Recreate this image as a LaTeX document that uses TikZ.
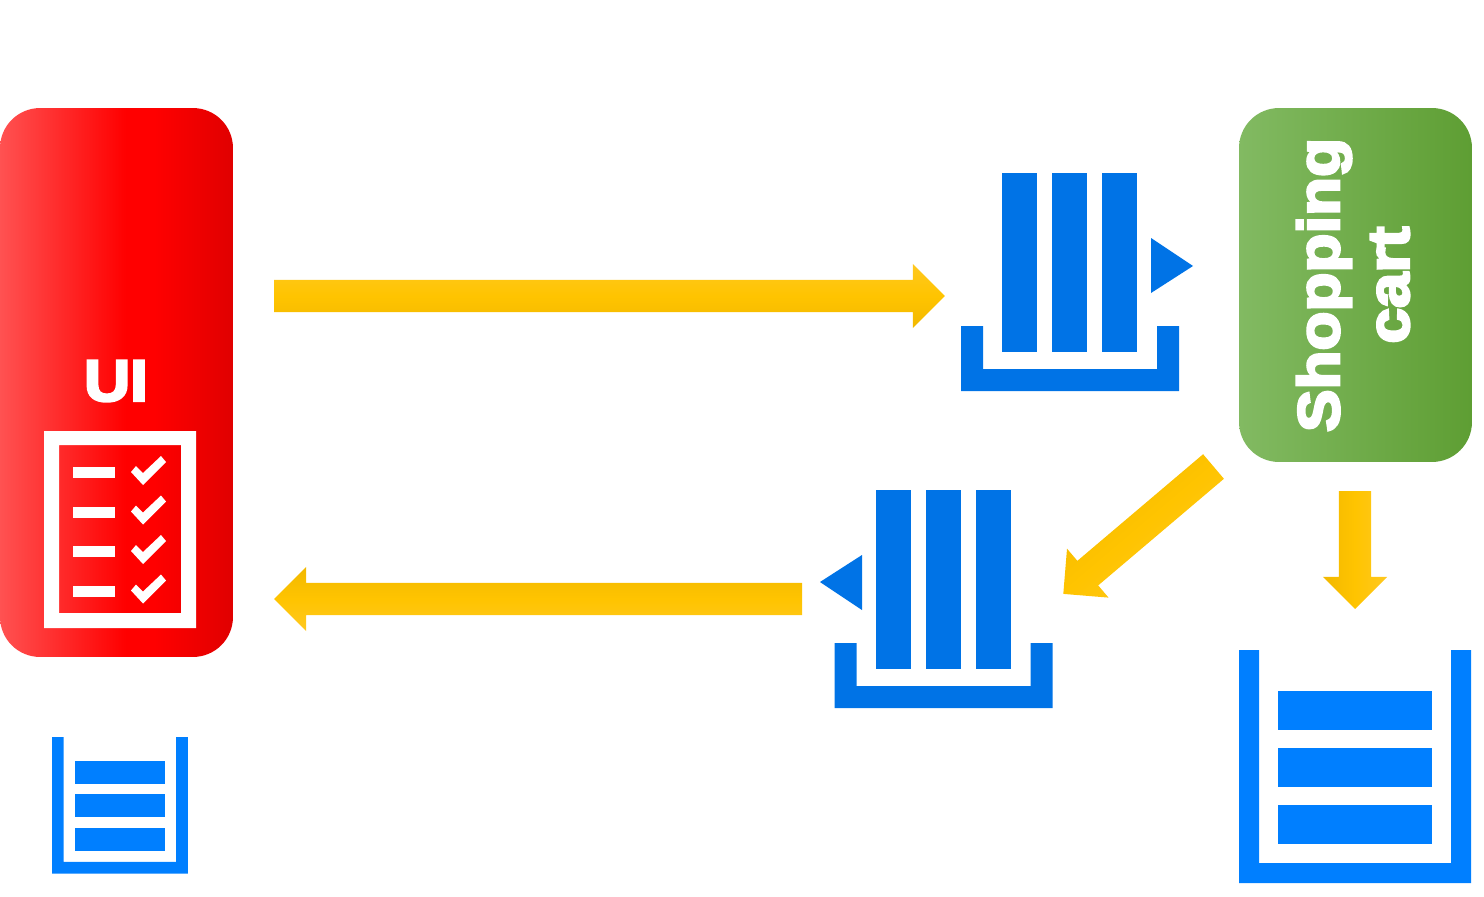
\documentclass[tikz,border=0pt]{standalone}
\usepackage{fontspec}
\usetikzlibrary{shapes.arrows}
\newfontfamily\heavyfont[FakeBold=4.5,FakeStretch=1.09]{Liberation Sans Bold}
\definecolor{queueblue}{HTML}{0073E6}
\definecolor{bucketblue}{HTML}{007FFF}
\definecolor{arrowlight}{HTML}{FFC820}
\definecolor{arrowmid}{HTML}{FFC400}
\definecolor{arrowdark}{HTML}{F2B800}
\definecolor{cartlight}{HTML}{82BA62}
\definecolor{cartmid}{HTML}{70AD47}
\definecolor{cartdark}{HTML}{5E9E33}
\pgfdeclarehorizontalshading{uishade}{100bp}{
  color(0bp)=(red!68!white); color(25bp)=(red!68!white); color(52bp)=(red);
  color(58bp)=(red); color(75bp)=(red!88!black); color(100bp)=(red!88!black)}
\tikzset{
  panel/.style={rounded corners=.8cm,inner sep=0pt,outer sep=0pt,minimum width=4.66cm},
  flowarrow/.style={single arrow,single arrow head extend=.32cm,single arrow tip angle=90,
    single arrow head indent=0pt,minimum width=1.28cm,inner sep=0pt,outer sep=0pt,anchor=tail,
    top color=arrowlight,bottom color=arrowdark,middle color=arrowmid,rotate=#1,shading angle=#1},
  paneltext/.style={text=white,font=\heavyfont\fontsize{33.3}{39.7}\selectfont,align=center,inner sep=0pt},
  queueicon/.pic={
    \foreach \barx in {41,91,141}
      \fill[queueblue] (\barx,0) rectangle (\barx+35,179);
    \fill[queueblue] (0,153) -- (22,153) -- (22,196) -- (196,196) -- (196,153) -- (218,153)
      -- (218,218) -- (0,218) -- cycle;
  },
  bucketicon/.pic={
    \fill[bucketblue] (0,0) -- (20,0) -- (20,213) -- (212,213) -- (212,0) -- (232,0)
      -- (232,233) -- (0,233) -- cycle;
    \foreach \bary in {41,98,155}
      \fill[bucketblue] (39,\bary) rectangle (193,\bary+39);
  },
}
\newcommand{\shaftwidth}{\rule{0pt}{.63cm}}
\begin{document}
\begin{tikzpicture}[x=0.02cm,y=-0.02cm]
\useasboundingbox (0,0) rectangle (1484,896);

% panels
\node (ui) [panel,minimum height=10.98cm,shading=uishade] at (116.5,382.5) {};
\node (cart) [panel,minimum height=7.08cm,left color=cartlight,middle color=cartmid,right color=cartdark] at (1355.5,285) {};
\node (uilabel) [paneltext] at (116,381) {UI};
\node (cartlabel) [paneltext,rotate=90] at (1353,285) {Shopping\\cart};

% checklist
\fill[white,even odd rule] (44,431) rectangle (196,628) (59,445) rectangle (181,613);
\foreach \rowy in {472.5,512,551.5,591} {
  \fill[white] (73,\rowy-5.5) rectangle (115,\rowy+5.5);
  \fill[white] (131,\rowy-.5) -- (136,\rowy-6.5) -- (143,\rowy+.5) -- (161,\rowy-16.5)
    -- (166,\rowy-10.5) -- (143,\rowy+12.5) -- cycle;
}

% queues
\pic at (961,173) {queueicon};
\pic at (834.5,490) {queueicon};
\fill[queueblue] (1151,238) -- (1193,266) -- (1151,293) -- cycle;
\fill[queueblue] (862,555) -- (820,582) -- (862,610) -- cycle;

% buckets
\pic at (1239,650) {bucketicon};
\pic[scale=.586] at (52,737) {bucketicon};

% arrows
\node (uiout) [flowarrow=0,minimum height=13.42cm] at (274,296) {\shaftwidth};
\node (uiin) [flowarrow=180,minimum height=10.56cm] at (802,599) {\shaftwidth};
\node (cartdown) [flowarrow=-90,minimum height=2.36cm] at (1355,491) {\shaftwidth};
\node (cartback) [flowarrow=220.3,minimum height=3.94cm] at (1213.5,466.5) {\shaftwidth};
\end{tikzpicture}
\end{document}
